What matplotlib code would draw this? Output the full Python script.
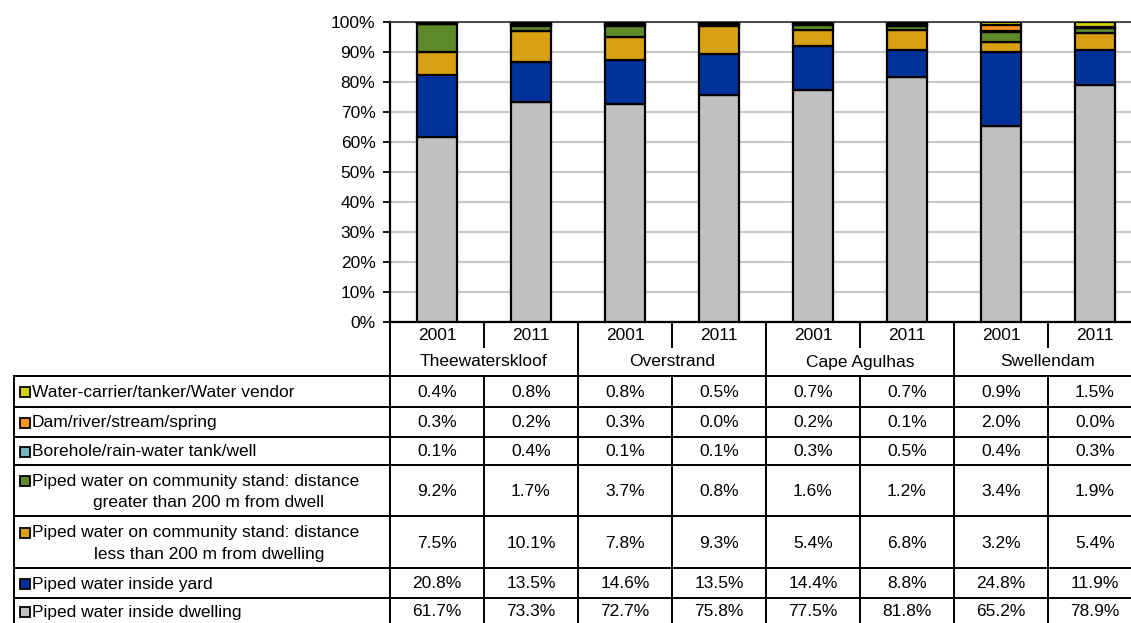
import matplotlib
matplotlib.use("Agg")
import matplotlib.pyplot as plt
import numpy as np

plt.rcParams['font.family'] = ['Liberation Sans', 'DejaVu Sans']

# ---------------- data ----------------
municipalities = ["Theewaterskloof", "Overstrand", "Cape Agulhas", "Swellendam"]
years = ["2001", "2011"]

# table order (top to bottom)
series_names = [
    "Water-carrier/tanker/Water vendor",
    "Dam/river/stream/spring",
    "Borehole/rain-water tank/well",
    "Piped water on community stand: distance\ngreater than 200 m from dwell",
    "Piped water on community stand: distance\nless than 200 m from dwelling",
    "Piped water inside yard",
    "Piped water inside dwelling",
]
water_carrier = [0.4, 0.8, 0.8, 0.5, 0.7, 0.7, 0.9, 1.5]
dam_river = [0.3, 0.2, 0.3, 0.0, 0.2, 0.1, 2.0, 0.0]
borehole = [0.1, 0.4, 0.1, 0.1, 0.3, 0.5, 0.4, 0.3]
stand_far = [9.2, 1.7, 3.7, 0.8, 1.6, 1.2, 3.4, 1.9]
stand_near = [7.5, 10.1, 7.8, 9.3, 5.4, 6.8, 3.2, 5.4]
inside_yard = [20.8, 13.5, 14.6, 13.5, 14.4, 8.8, 24.8, 11.9]
inside_dwelling = [61.7, 73.3, 72.7, 75.8, 77.5, 81.8, 65.2, 78.9]

series_values = [water_carrier, dam_river, borehole, stand_far,
                 stand_near, inside_yard, inside_dwelling]
series_colors = ["#D2D200", "#F7941E", "#78B4BE", "#5E8A2A",
                 "#D9A012", "#003399", "#C0C0C0"]

# ---------------- layout ----------------
W, H = 1131, 623
fig = plt.figure(figsize=(W / 100, H / 100), dpi=100)
fig.patch.set_facecolor("white")

ax_left, ax_right = 390, 1142     # pixels
ax_top, ax_bot = 22, 322
col_w = (ax_right - ax_left) / 8.0

ax = fig.add_axes([ax_left / W, (H - ax_bot) / H,
                   (ax_right - ax_left) / W, (ax_bot - ax_top) / H])
n = len(inside_dwelling)
x = np.arange(n)
bottom = np.zeros(n)
# stack bottom to top: reverse table order
for vals, col in zip(series_values[::-1], series_colors[::-1]):
    v = np.array(vals)
    ax.bar(x, v, width=0.42, bottom=bottom, color=col,
           edgecolor="black", linewidth=1.6, zorder=3)
    bottom += v

ax.set_xlim(-0.5, n - 0.5)
ax.set_ylim(0, 100)
ax.set_yticks(np.arange(0, 101, 10))
ax.set_yticklabels([f"{v}%" for v in range(0, 101, 10)], fontsize=12.5)
ax.tick_params(axis="y", direction="out", length=5, width=1.3, pad=5.5)
ax.set_xticks([])
ax.yaxis.grid(True, color="#C8C8C8", linewidth=1.6, zorder=0)
ax.set_axisbelow(True)
ax.spines["right"].set_visible(False)
ax.spines["left"].set_linewidth(1.6)
ax.spines["bottom"].set_linewidth(1.6)
ax.spines["top"].set_linewidth(1.2)
ax.spines["top"].set_color("#303030")

# ---------------- table ----------------
tax = fig.add_axes([ax_left / W, 0, (ax_right - ax_left) / W, (H - ax_bot) / H])
tax.set_xlim(-0.5, n - 0.5)
tax.set_ylim(H, ax_bot)
tax.axis("off")


def px2x(px):
    return -0.5 + (px - ax_left) / col_w


lw = 1.4
kw = dict(color="black", linewidth=lw, clip_on=False)
row_edges = [376, 406.5, 436.5, 464.5, 516, 568, 598, 628]
left_edge = px2x(14)

# horizontal lines
for y in row_edges:
    tax.plot([left_edge, n - 0.5], [y, y], **kw)
# left border of row-header column
tax.plot([left_edge, left_edge], [row_edges[0], H], **kw)
# axis line continued
tax.plot([-0.5, -0.5], [ax_bot, H], **kw)
# municipality dividers and year dividers
for k in range(1, n + 1):
    xb = k - 0.5
    if k % 2 == 0:
        tax.plot([xb, xb], [ax_bot, H], **kw)
    else:
        tax.plot([xb, xb], [ax_bot, 347], **kw)
        tax.plot([xb, xb], [row_edges[0], H], **kw)

fs = 12.5
# year row and municipality row
for i in range(n):
    tax.text(i, 335, years[i % 2], ha="center", va="center", fontsize=fs)
for j, m in enumerate(municipalities):
    tax.text(2 * j + 0.5, 362, m, ha="center", va="center", fontsize=fs)

# data rows
for r, (name, vals, col) in enumerate(zip(series_names, series_values, series_colors)):
    y0, y1 = row_edges[r], row_edges[r + 1]
    yc = (y0 + y1) / 2 + 1
    if r == len(series_names) - 1:
        yc = 612
    for i, v in enumerate(vals):
        tax.text(i, yc, f"{v:.1f}%", ha="center", va="center", fontsize=fs)
    lines = name.split("\n")
    mk = dict(marker="s", markersize=7, markerfacecolor=col,
              markeredgecolor="black", markeredgewidth=1.3, clip_on=False)
    if len(lines) == 1:
        ly = yc
        tax.plot([px2x(24.5)], [ly], **mk)
        tax.text(px2x(32), ly, lines[0], ha="left", va="center", fontsize=fs)
    else:
        ly1, ly2 = yc - 10, yc + 11
        tax.plot([px2x(24.5)], [ly1], **mk)
        tax.text(px2x(32), ly1, lines[0], ha="left", va="center", fontsize=fs)
        tax.text(px2x(209), ly2, lines[1], ha="center", va="center", fontsize=fs)

fig.savefig("out.png", dpi=100, facecolor="white")
